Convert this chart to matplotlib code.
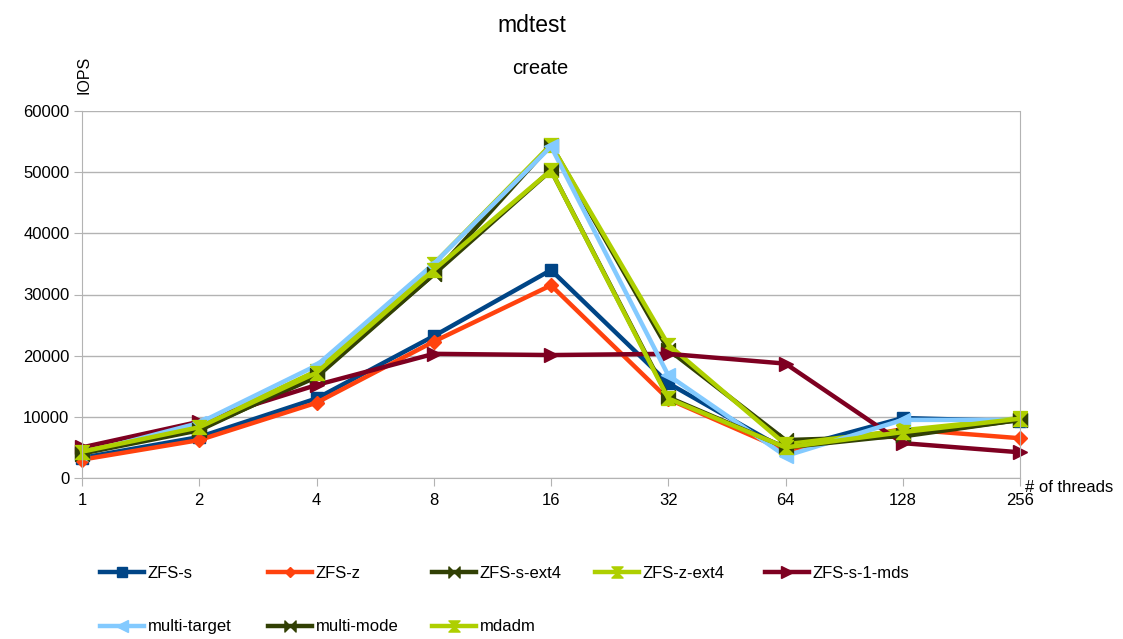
import matplotlib
matplotlib.use("Agg")
import matplotlib.pyplot as plt
from matplotlib.path import Path

plt.rcParams['font.family'] = ['Liberation Sans', 'DejaVu Sans']

threads = ["1", "2", "4", "8", "16", "32", "64", "128", "256"]

zfs_s = [3300, 6700, 13000, 23200, 34000, 15500, 4600, 9800, 9300]
zfs_z = [3000, 6200, 12300, 22300, 31500, 12900, 4500, 8000, 6500]
zfs_s_ext4 = [4200, 8000, 16500, 33300, 54500, 21000, 6200, 6800, 9500]
zfs_z_ext4 = [4300, 8500, 17500, 35000, 54500, 21800, 5500, 7800, 9800]
zfs_s_1_mds = [5000, 9200, 15200, 20300, 20100, 20300, 18700, 5700, 4200]
multi_target = [4000, 9000, 18400, 35000, 54200, 16800, 3600, 9500, 9500]
multi_mode = [4000, 7800, 16800, 33300, 50300, 13200, 5000, 7000, 9500]
mdadm = [4300, 8300, 17200, 34000, 50300, 13000, 5000, 7500, 9700]

bowtie = Path([(-1, -1), (1, 1), (1, -1), (-1, 1), (-1, -1)],
              [Path.MOVETO, Path.LINETO, Path.LINETO, Path.LINETO, Path.CLOSEPOLY])
hourglass = Path([(-1, -1), (1, 1), (-1, 1), (1, -1), (-1, -1)],
                 [Path.MOVETO, Path.LINETO, Path.LINETO, Path.LINETO, Path.CLOSEPOLY])

series = [
    ("ZFS-s", zfs_s, "#004586", "s", 9),
    ("ZFS-z", zfs_z, "#ff420e", "D", 7),
    ("ZFS-s-ext4", zfs_s_ext4, "#314004", bowtie, 10),
    ("ZFS-z-ext4", zfs_z_ext4, "#aecf00", hourglass, 10),
    ("ZFS-s-1-mds", zfs_s_1_mds, "#7e0021", ">", 10),
    ("multi-target", multi_target, "#83caff", "<", 10),
    ("multi-mode", multi_mode, "#314004", bowtie, 10),
    ("mdadm", mdadm, "#aecf00", hourglass, 10),
]

W, H = 1123, 639
fig = plt.figure(figsize=(W / 100, H / 100), dpi=100)
ax = fig.add_axes([82 / W, 1 - 478 / H, (1020 - 82) / W, (478 - 111) / H])

x = list(range(len(threads)))
handles = []
for name, vals, col, mk, ms in series:
    h, = ax.plot(x, vals, color=col, lw=3.2, marker=mk, markersize=ms,
                 markerfacecolor=col, markeredgecolor=col, label=name, clip_on=False)
    handles.append(h)

ax.set_xlim(0, 8)
ax.set_ylim(0, 60000)
ax.set_xticks(x)
ax.set_xticklabels(threads)
ax.set_yticks(range(0, 60001, 10000))
ax.tick_params(axis='y', labelsize=12, length=6, color="#b3b3b3", pad=3)
ax.tick_params(axis='x', labelsize=12, length=6, color="#b3b3b3", pad=5)
ax.yaxis.grid(True, color="#b3b3b3", lw=1)
ax.set_axisbelow(True)
ax.spines["top"].set_visible(False)
for s in ["left", "right", "bottom"]:
    ax.spines[s].set_color("#b3b3b3")

fig.text(532 / W, 1 - 25 / H, "mdtest", ha="center", va="center", fontsize=16.5)
fig.text(540 / W, 1 - 69 / H, "create", ha="center", va="center", fontsize=14.5)
fig.text(84 / W, 1 - 75 / H, "IOPS", rotation=90, ha="center", va="center", fontsize=11.5)
fig.text(1025 / W, 1 - 487 / H, "# of threads", ha="left", va="center", fontsize=12)

columns = [[0, 5], [1, 6], [2, 7], [3], [4]]
col_x = [100, 268, 432, 595, 765]
for idx, cx in zip(columns, col_x):
    leg = fig.legend([handles[i] for i in idx], [series[i][0] for i in idx],
                     loc="upper left", bbox_to_anchor=(cx / W, 1 - 566 / H),
                     frameon=False, fontsize=12, handlelength=2.65, borderpad=0,
                     borderaxespad=0, labelspacing=2.3, handletextpad=0.2,
                     markerscale=0.8)

fig.savefig("out.png", dpi=100)
